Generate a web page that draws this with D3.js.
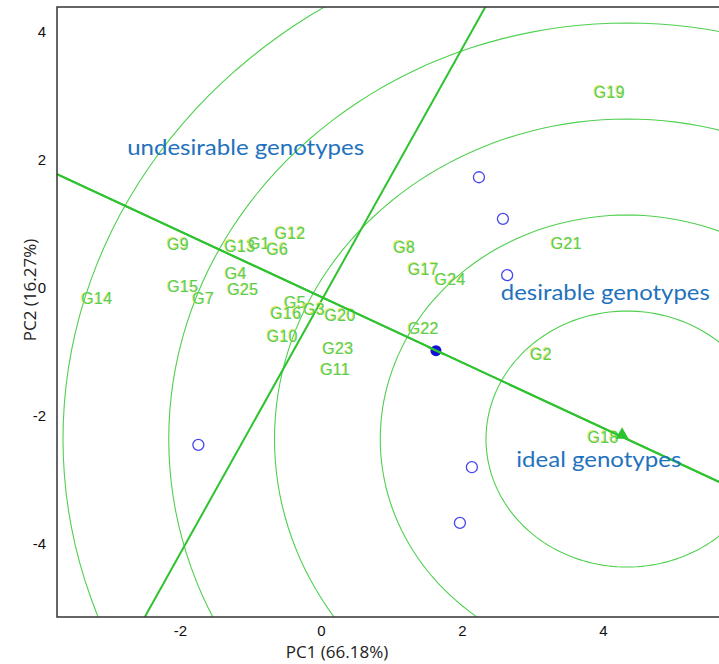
<!DOCTYPE html>
<html>
<head>
<meta charset="utf-8">
<script src="https://cdn.jsdelivr.net/npm/d3@7"></script>
<style>
  body { margin: 0; background: #fff; }
  svg { display: block; }
</style>
</head>
<body>
<div id="chart"></div>
<script>
// genotype labels (PC1, PC2)
var genoNames = ['G12', 'G9', 'G13', 'G1', 'G6', 'G4', 'G15', 'G25', 'G14', 'G7', 'G5', 'G3', 'G16',
    'G20', 'G10', 'G23', 'G11', 'G8', 'G17', 'G24', 'G22', 'G21', 'G2', 'G18', 'G19'];
var genoPC1 = [-0.44, -2.03, -1.15, -0.88, -0.62, -1.21, -1.96, -1.11, -3.18, -1.67, -0.37, -0.10, -0.50,
    0.27, -0.55, 0.24, 0.20, 1.18, 1.45, 1.83, 1.45, 3.48, 3.12, 4.00, 4.09];
var genoPC2 = [0.86, 0.69, 0.66, 0.70, 0.61, 0.23, 0.02, -0.02, -0.16, -0.16, -0.23, -0.33, -0.39,
    -0.42, -0.75, -0.94, -1.27, 0.64, 0.30, 0.13, -0.63, 0.70, -1.03, -2.33, 3.06];

// environments (open blue circles)
var envPC1 = [2.24, 2.58, 2.64, -1.74, 2.14, 1.97];
var envPC2 = [1.73, 1.08, 0.20, -2.45, -2.80, -3.67];

// average environment and ideal genotype
var avgEnv = [1.63, -0.98];
var idealPoint = [4.27, -2.31];

// concentric circles around the ideal genotype
var ringCenter = [4.34, -2.36];
var ringRadii = [2.0, 3.5, 5.0, 6.5, 8.0];

// ATC line and its perpendicular
var atcLine = [[-3.745, 1.78], [5.645, -3.03]];
var perpLine = [[-2.50, -5.14], [2.34, 4.41]];

var xTicks = [-2, 0, 2, 4];
var yTicks = [-4, -2, 0, 2, 4];

var notes = [
    {text: 'undesirable genotypes', x: -2.75, y: 2.08, len: 237},
    {text: 'desirable genotypes', x: 2.55, y: -0.19, len: 209},
    {text: 'ideal genotypes', x: 2.77, y: -2.80, len: 165}
];

var W = 719, H = 664;
var pLeft = 57, pTop = 7, pRight = 719, pBottom = 617;

var svg = d3.select('#chart').append('svg')
    .attr('width', W)
    .attr('height', H);

var x = d3.scaleLinear().domain([-3.745, 5.645]).range([pLeft, pRight]);
var y = d3.scaleLinear().domain([4.39, -5.14]).range([pTop, pBottom]);

svg.append('clipPath').attr('id', 'plotclip')
    .append('rect')
    .attr('x', pLeft).attr('y', pTop)
    .attr('width', pRight - pLeft).attr('height', pBottom - pTop);

var plot = svg.append('g').attr('clip-path', 'url(#plotclip)');

var line = d3.line()
    .x(function (d) { return x(d[0]); })
    .y(function (d) { return y(d[1]); });

// rings
var angles = d3.range(0, 361, 2);
ringRadii.forEach(function (r) {
    var pts = angles.map(function (a) {
        var t = a * Math.PI / 180;
        return [ringCenter[0] + r * Math.cos(t), ringCenter[1] + r * Math.sin(t)];
    });
    plot.append('path')
        .attr('d', line(pts))
        .attr('fill', 'none')
        .attr('stroke', '#4fd04f')
        .attr('stroke-width', 1.1);
});

// main lines
[atcLine, perpLine].forEach(function (l) {
    plot.append('path')
        .attr('d', line(l))
        .attr('fill', 'none')
        .attr('stroke', '#2ec32e')
        .attr('stroke-width', 2);
});

// environments
envPC1.forEach(function (v, i) {
    plot.append('circle')
        .attr('cx', x(v))
        .attr('cy', y(envPC2[i]))
        .attr('r', 5.5)
        .attr('fill', 'none')
        .attr('stroke', '#4646f0')
        .attr('stroke-width', 1.3);
});

plot.append('circle')
    .attr('cx', x(avgEnv[0]))
    .attr('cy', y(avgEnv[1]))
    .attr('r', 5.5)
    .attr('fill', '#1010d8');

plot.append('path')
    .attr('d', line([[avgEnv[0] - 0.12, avgEnv[1] + 0.061], [avgEnv[0] + 0.12, avgEnv[1] - 0.061]]))
    .attr('stroke', '#2ec32e')
    .attr('stroke-width', 2);

// genotype labels
var labels = plot.append('g')
    .style('font-family', '"Liberation Sans", Arial, sans-serif')
    .style('font-size', '16px')
    .style('letter-spacing', '0.3px')
    .attr('text-anchor', 'middle');

genoNames.forEach(function (name, i) {
    labels.append('text')
        .attr('x', x(genoPC1[i]) - 0.7)
        .attr('y', y(genoPC2[i]) - 0.4)
        .attr('dy', '0.36em')
        .attr('fill', '#e6e36a')
        .text(name);
    labels.append('text')
        .attr('x', x(genoPC1[i]))
        .attr('y', y(genoPC2[i]))
        .attr('dy', '0.36em')
        .attr('fill', '#55cf55')
        .text(name);
});

// ideal genotype marker
plot.append('path')
    .attr('d', d3.symbol().type(d3.symbolTriangle).size(75)())
    .attr('transform', 'translate(' + x(idealPoint[0]) + ',' + (y(idealPoint[1]) - 1) + ')')
    .attr('fill', '#2ec32e');

plot.append('path')
    .attr('d', line(atcLine))
    .attr('fill', 'none')
    .attr('stroke', '#2ec32e')
    .attr('stroke-width', 2);

// annotations
notes.forEach(function (n) {
    svg.append('text')
        .attr('x', x(n.x))
        .attr('y', y(n.y))
        .attr('textLength', n.len)
        .attr('lengthAdjust', 'spacingAndGlyphs')
        .style('font-family', 'Lato, "Open Sans", sans-serif')
        .style('font-size', '22px')
        .attr('fill', '#1f72bd')
        .text(n.text);
});

// frame
svg.append('path')
    .attr('d', 'M' + (pRight + 5) + ',' + pTop + 'H' + pLeft + 'V' + pBottom + 'H' + (pRight + 5))
    .attr('fill', 'none')
    .attr('stroke', '#333')
    .attr('stroke-width', 1.5);

// axes
var xAxis = svg.append('g')
    .attr('transform', 'translate(0,' + pBottom + ')')
    .call(d3.axisBottom(x).tickValues(xTicks).tickSize(0).tickPadding(8)
        .tickFormat(function (d) { return d < 0 ? '-' + Math.abs(d) : d; }));
xAxis.select('.domain').remove();
xAxis.selectAll('text')
    .style('font-family', '"Liberation Sans", Arial, sans-serif')
    .style('font-size', '15px')
    .attr('fill', '#111');

var yAxis = svg.append('g')
    .attr('transform', 'translate(' + pLeft + ',0)')
    .call(d3.axisLeft(y).tickValues(yTicks).tickSize(0).tickPadding(11)
        .tickFormat(function (d) { return d < 0 ? '-' + Math.abs(d) : d; }));
yAxis.select('.domain').remove();
yAxis.selectAll('text')
    .style('font-family', '"Liberation Sans", Arial, sans-serif')
    .style('font-size', '15px')
    .attr('fill', '#111');

svg.append('text')
    .attr('x', 337)
    .attr('y', 658)
    .attr('text-anchor', 'middle')
    .style('font-family', '"Open Sans", sans-serif')
    .style('font-size', '17px')
    .attr('fill', '#222')
    .text('PC1 (66.18%)');

svg.append('text')
    .attr('transform', 'translate(36,290) rotate(-90)')
    .attr('text-anchor', 'middle')
    .style('font-family', '"Open Sans", sans-serif')
    .style('font-size', '17px')
    .attr('fill', '#222')
    .text('PC2 (16.27%)');
</script>
</body>
</html>
